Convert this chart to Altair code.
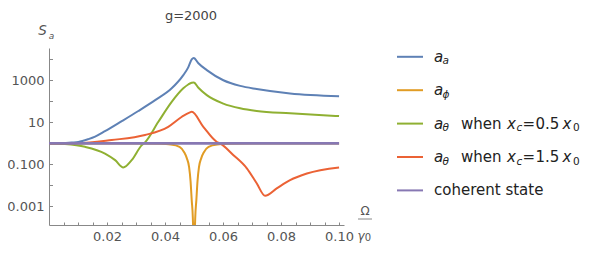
import altair as alt
import pandas as pd

# ---------------- data ----------------
omega_aa = [0, 0.005, 0.0078, 0.0101, 0.0136, 0.0159, 0.0193, 0.0251, 0.0308, 0.0366,
            0.0423, 0.0463, 0.048, 0.0492, 0.0499, 0.0515, 0.0544, 0.0601, 0.0659,
            0.0716, 0.0831, 0.1]
s_aa = [1, 1.02, 1.1, 1.17, 1.6, 2.1, 3.8, 11.5, 35, 115,
        420, 1780, 4200, 10000, 11700, 6600, 3100, 1020, 550,
        390, 240, 178]

omega_phi = [0, 0.03, 0.038, 0.042, 0.045, 0.0466, 0.0475, 0.0483, 0.0488, 0.0492, 0.0496,
             0.0499, 0.05, 0.0501, 0.0504, 0.0508, 0.0512, 0.0517, 0.0525, 0.0534, 0.055,
             0.058, 0.062, 0.07, 0.1]
s_phi = [1, 0.99, 0.955, 0.89, 0.69, 0.38, 0.2, 0.074, 0.016, 0.002, 0.00025,
         1e-6, 1e-8, 1e-6, 0.00025, 0.002, 0.016, 0.074, 0.2, 0.38, 0.69,
         0.89, 0.955, 0.99, 1]

omega_th05 = [0, 0.0055, 0.0124, 0.0193, 0.0228, 0.0256, 0.0285, 0.032, 0.0331, 0.0377,
              0.0423, 0.0463, 0.048, 0.0492, 0.0499, 0.0515, 0.0544, 0.0601, 0.0659,
              0.0716, 0.0831, 0.1]
s_th05 = [1, 0.93, 0.69, 0.33, 0.16, 0.072, 0.16, 0.83, 1.12, 10.7,
          95, 420, 640, 780, 800, 450, 200, 79, 47,
          35, 27, 20]

omega_th15 = [0, 0.01, 0.0216, 0.0331, 0.0411, 0.0458, 0.0486, 0.0492, 0.0532, 0.0578,
              0.059, 0.0636, 0.0682, 0.0716, 0.0745, 0.0785, 0.0831, 0.0889, 0.1]
s_th15 = [1, 1.02, 1.45, 2.5, 6.2, 18.6, 30, 32, 6.2, 1.2,
          1.0, 0.275, 0.065, 0.0126, 0.0032, 0.0072, 0.0178, 0.037, 0.072]

omega_coh = [0, 0.1]
s_coh = [1, 1]

x_label_values = [0.02, 0.04, 0.06, 0.08, 0.1]
x_tick_values = [0.005, 0.01, 0.015, 0.02, 0.025, 0.03, 0.035, 0.04, 0.045, 0.05,
                 0.055, 0.06, 0.065, 0.07, 0.075, 0.08, 0.085, 0.09, 0.095, 0.1]
y_label_values = [1000, 10, 0.1, 0.001]
y_tick_values = [0.001, 0.01, 0.1, 1, 10, 100, 1000, 10000]

title_text = "g=2000"
colors = ["#5E81B5", "#E19C24", "#8FB032", "#EB6235", "#8778B3"]

# ---------------- layout ----------------
W, H = 295, 177
X_MAX = 0.1017
Y_MIN, Y_MAX = 1.3e-4, 3.5e4
FONT = "DejaVu Sans"
AXIS_COLOR = "#888888"
LABEL_COLOR = "#555555"

xscale = alt.Scale(domain=[0, X_MAX], nice=False, zero=False)
yscale = alt.Scale(type="log", domain=[Y_MIN, Y_MAX], nice=False)


def line_layer(xs, ys, color, width, x_axis=None, y_axis=None):
    df = pd.DataFrame({"omega": xs, "s": ys})
    return alt.Chart(df).mark_line(
        color=color, strokeWidth=width, clip=True, interpolate="monotone"
    ).encode(
        x=alt.X("omega:Q", scale=xscale, axis=x_axis),
        y=alt.Y("s:Q", scale=yscale, axis=y_axis),
    )


main_x_axis = alt.Axis(orient="bottom", values=x_label_values, format=".2f", ticks=False,
                       tickSize=0, domain=True, domainColor=AXIS_COLOR, domainWidth=1,
                       grid=False, labelFont=FONT, labelFontSize=13, labelColor=LABEL_COLOR,
                       labelPadding=5, labelFlush=False, title=None)
tick_x_axis = alt.Axis(orient="top", offset=-H, values=x_tick_values, labels=False,
                       domain=False, ticks=True, tickSize=3, tickColor=AXIS_COLOR,
                       grid=False, title=None)
main_y_axis = alt.Axis(orient="left", values=y_label_values,
                       labelExpr="datum.value >= 1 ? format(datum.value, 'd') : format(datum.value, '.3f')",
                       ticks=False, tickSize=0, domain=True, domainColor=AXIS_COLOR,
                       domainWidth=1, grid=False, labelFont=FONT, labelFontSize=13,
                       labelColor=LABEL_COLOR, labelPadding=5, labelOverlap=False,
                       labelFlush=False, title=None)
tick_y_axis = alt.Axis(orient="right", offset=-W, values=y_tick_values, labels=False,
                       domain=False, ticks=True, tickSize=3.5, tickColor=AXIS_COLOR,
                       grid=False, title=None)

blue = line_layer(omega_aa, s_aa, colors[0], 2, tick_x_axis, tick_y_axis)
orange = line_layer(omega_phi, s_phi, colors[1], 2)
green = line_layer(omega_th05, s_th05, colors[2], 2)
red = line_layer(omega_th15, s_th15, colors[3], 2)
purple = line_layer(omega_coh, s_coh, colors[4], 2.6, main_x_axis, main_y_axis)

ONE = alt.Data(values=[{}])


def txt(t, x, y, size, italic=False, color="#222222", align="left", baseline="middle"):
    props = dict(text=t, font=FONT, fontSize=size, color=color, align=align,
                 baseline=baseline)
    if italic:
        props["fontStyle"] = "italic"
    return alt.Chart(ONE).mark_text(**props).encode(x=alt.value(x), y=alt.value(y))


def hrule(x1, x2, y, color, width):
    return alt.Chart(ONE).mark_rule(color=color, strokeWidth=width).encode(
        x=alt.value(x1), x2=alt.value(x2), y=alt.value(y))


extras = []
# title and axis labels
extras.append(txt(title_text, 142, -38.5, 13, color="#444444", align="center",
                  baseline="top"))
extras.append(txt("S", -6.5, -17, 13.5, italic=True, color=LABEL_COLOR, align="center"))
extras.append(txt("a", 2.5, -12, 9, italic=True, color=LABEL_COLOR, align="center"))
extras.append(txt("Ω", 316, 163, 12, color=LABEL_COLOR, align="center"))
extras.append(hrule(309, 323, 171, AXIS_COLOR, 1))
extras.append(txt("γ", 312, 188, 12, italic=True, color=LABEL_COLOR, align="center"))
extras.append(txt("0", 319, 190, 10, color=LABEL_COLOR, align="center"))

# legend
MAIN, SUB, SUBDY = 15, 10.5, 4.5
row_y = [8.8, 42.2, 75.6, 109.0, 142.4]
legend_rows = [
    [("a", True, False, 385), ("a", True, True, 393.5)],
    [("a", True, False, 385), ("ϕ", True, True, 393.5)],
    [("a", True, False, 385), ("θ", True, True, 393.5), ("when", False, False, 412),
     ("x", True, False, 458), ("c", True, True, 467.5), ("=", False, False, 473.5),
     ("0.5", False, False, 486.5), ("x", True, False, 513.5), ("0", False, True, 524)],
    [("a", True, False, 385), ("θ", True, True, 393.5), ("when", False, False, 412),
     ("x", True, False, 458), ("c", True, True, 467.5), ("=", False, False, 473.5),
     ("1.5", False, False, 486.5), ("x", True, False, 513.5), ("0", False, True, 524)],
    [("coherent state", False, False, 385)],
]
for i, segs in enumerate(legend_rows):
    y = row_y[i]
    extras.append(hrule(348, 374, y, colors[i], 2))
    for t, it, sub, x in segs:
        extras.append(txt(t, x, y + (SUBDY if sub else 0), SUB if sub else MAIN, italic=it))

chart = alt.layer(blue, orange, green, red, purple, *extras).resolve_axis(
    x="independent", y="independent"
).properties(
    width=W, height=H,
    autosize=alt.AutoSizeParams(type="none"),
    padding={"left": 41, "top": 40, "right": 240, "bottom": 18},
).configure_view(stroke=None)

chart.save("out.html", embed_options={"renderer": "svg", "actions": False})
